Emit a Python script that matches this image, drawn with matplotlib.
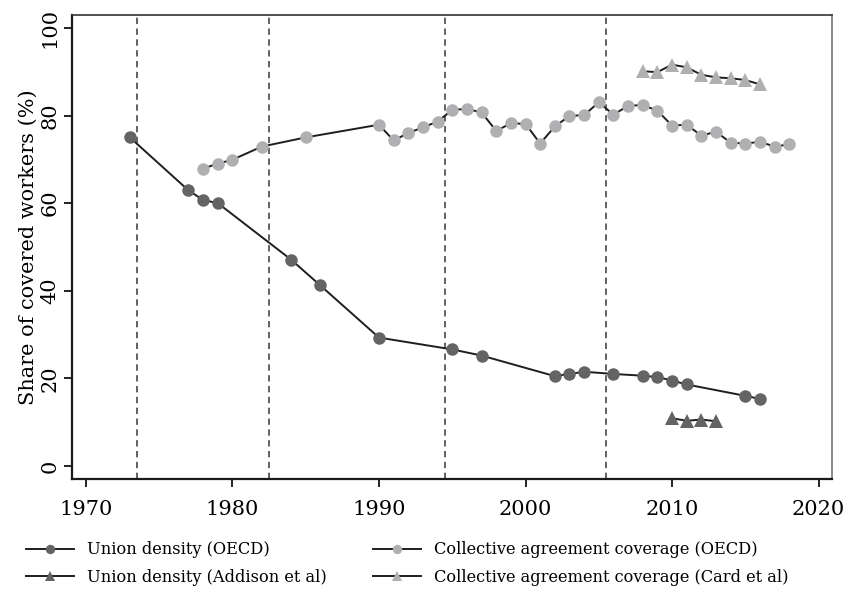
import matplotlib

matplotlib.use("Agg")
import matplotlib.pyplot as plt

# 組合組織率と労働協約適用率 (%) の推移
union_oecd_years = [1973, 1977, 1978, 1979, 1984, 1986, 1990, 1995, 1997,
                    2002, 2003, 2004, 2006, 2008, 2009, 2010, 2011, 2015, 2016]
union_oecd = [75.0, 62.9, 60.7, 60.0, 47.1, 41.2, 29.3, 26.6, 25.2,
              20.5, 21.0, 21.5, 21.0, 20.6, 20.3, 19.5, 18.6, 16.0, 15.3]

union_addison_years = [2010, 2011, 2012, 2013]
union_addison = [10.9, 10.3, 10.6, 10.2]

cov_oecd_years = [1978, 1979, 1980, 1982, 1985, 1990, 1991, 1992, 1993, 1994,
                  1995, 1996, 1997, 1998, 1999, 2000, 2001, 2002, 2003, 2004,
                  2005, 2006, 2007, 2008, 2009, 2010, 2011, 2012, 2013, 2014,
                  2015, 2016, 2017, 2018]
cov_oecd = [67.9, 69.0, 69.9, 72.9, 75.0, 77.9, 74.3, 76.0, 77.3, 78.6,
            81.3, 81.5, 80.7, 76.5, 78.2, 78.1, 73.6, 77.5, 79.9, 80.1,
            83.0, 80.2, 82.2, 82.4, 81.1, 77.7, 77.9, 75.4, 76.3, 73.8,
            73.6, 74.0, 72.9, 73.4]

cov_card_years = [2008, 2009, 2010, 2011, 2012, 2013, 2014, 2015, 2016]
cov_card = [90.1, 89.9, 91.6, 91.0, 89.3, 88.7, 88.5, 88.1, 87.1]

break_years = [1973.5, 1982.5, 1994.5, 2005.5]
x_ticks = [1970, 1980, 1990, 2000, 2010, 2020]
y_ticks = [0, 20, 40, 60, 80, 100]

DARK = "#646464"
LIGHT = "#b0b0b2"
LINE = "#1e1e1e"

plt.rcParams["font.family"] = ["DejaVu Serif"]

fig = plt.figure(figsize=(8.47, 5.90), dpi=100)
ax = fig.add_axes([0.085, 0.188, 0.897, 0.787])

for x in break_years:
    ax.axvline(x, color="#555555", linestyle=(0, (3.5, 2.5)), linewidth=1.3, zorder=1)

line_style = dict(color=LINE, linewidth=1.4, markeredgewidth=0, zorder=3)
h1, = ax.plot(union_oecd_years, union_oecd, marker="o", markersize=9,
              markerfacecolor=DARK, label="Union density (OECD)", **line_style)
h2, = ax.plot(union_addison_years, union_addison, marker="^", markersize=10,
              markerfacecolor=DARK, label="Union density (Addison et al)", **line_style)
h3, = ax.plot(cov_oecd_years, cov_oecd, marker="o", markersize=9,
              markerfacecolor=LIGHT, label="Collective agreement coverage (OECD)",
              **line_style)
h4, = ax.plot(cov_card_years, cov_card, marker="^", markersize=10,
              markerfacecolor=LIGHT, label="Collective agreement coverage (Card et al)",
              **line_style)

ax.set_xlim(1969.05, 2020.9)
ax.set_ylim(-3, 103)
ax.set_xticks(x_ticks)
ax.set_yticks(y_ticks)
ax.tick_params(axis="both", direction="out", length=6, width=1.4,
               labelsize=15, color="#222222")
ax.tick_params(axis="y", labelrotation=90, pad=3)
for lab in ax.get_yticklabels():
    lab.set_va("center")
ax.tick_params(axis="x", pad=9)

for side in ("left", "bottom"):
    ax.spines[side].set_linewidth(1.6)
    ax.spines[side].set_color("#1a1a1a")
ax.spines["top"].set_linewidth(1.2)
ax.spines["top"].set_color("#333333")
ax.spines["right"].set_linewidth(1.2)
ax.spines["right"].set_color("#777777")

ax.set_ylabel("Share of covered workers (%)", fontsize=15, labelpad=2)

fig.legend(handles=[h1, h2, h3, h4], ncol=2, loc="upper left",
           bbox_to_anchor=(0.013, 0.107), frameon=False, fontsize=11.7,
           handlelength=3.0, markerscale=0.75, columnspacing=2.8,
           labelspacing=0.65, handletextpad=0.8)

fig.savefig("out.png", dpi=100)
plt.close(fig)
